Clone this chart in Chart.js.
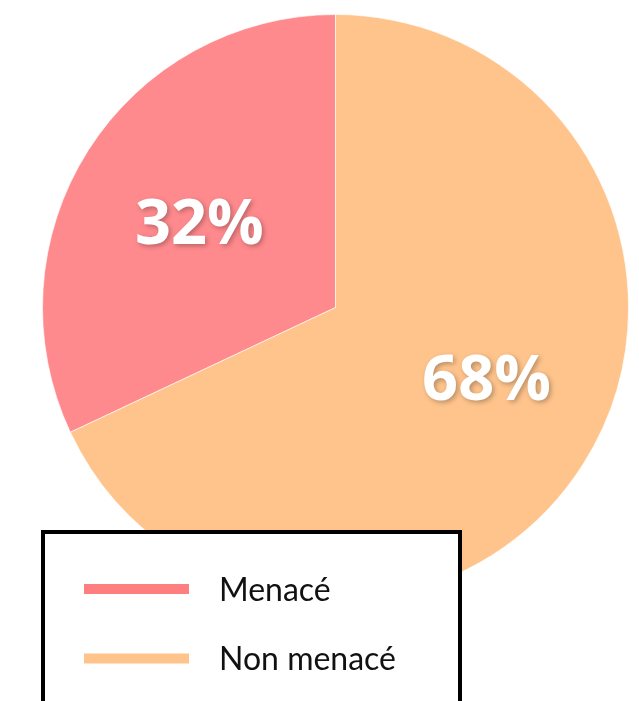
<!DOCTYPE html>
<html lang="fr">
<head>
<meta charset="utf-8">
<title>Menacé / Non menacé</title>
<script src="https://cdn.jsdelivr.net/npm/chart.js@4/dist/chart.umd.min.js"></script>
<style>
  html, body { margin: 0; padding: 0; background: #fff; }
  #wrap { position: relative; width: 639px; height: 701px; }
</style>
</head>
<body>
<div id="wrap"><canvas id="pie" width="639" height="701"></canvas></div>
<script>
  const labels = ["Menacé", "Non menacé"];
  const values = [32, 68];
  const sliceColors = ["#FF8A8D", "#FFC48C"];
  const legendColors = ["#FF7F80", "#FFC48C"];

  const total = values.reduce((a, b) => a + b, 0);

  // ---------------- Percent labels inside slices ----------------
  const pctLabels = {
    id: "pctLabels",
    afterDatasetsDraw(chart, args, opts) {
      const { ctx } = chart;
      const meta = chart.getDatasetMeta(0);
      ctx.save();
      ctx.font = `bold ${opts.size}px "Open Sans", Lato, sans-serif`;
      ctx.fillStyle = "#fff";
      ctx.textAlign = "center";
      ctx.textBaseline = "alphabetic";
      ctx.shadowColor = "rgba(0,0,0,0.28)";
      ctx.shadowBlur = 5;
      ctx.shadowOffsetX = 2;
      ctx.shadowOffsetY = 2;
      meta.data.forEach((arc, i) => {
        const p = arc.getProps(["x", "y", "startAngle", "endAngle", "outerRadius"], true);
        const mid = (p.startAngle + p.endAngle) / 2;
        const r = p.outerRadius * opts.radius[i];
        const nudge = opts.nudge[i] || [0, 0];
        const x = p.x + Math.cos(mid) * r + nudge[0];
        const y = p.y + Math.sin(mid) * r + nudge[1];
        const pct = Math.round((values[i] / total) * 100) + "%";
        ctx.fillText(pct, x, y + opts.size * 0.355);
      });
      ctx.restore();
    },
  };

  // ---------------- Boxed legend overlapping the pie ----------------
  const boxLegend = {
    id: "boxLegend",
    afterDraw(chart, args, o) {
      const { ctx } = chart;
      ctx.save();
      ctx.fillStyle = "#fff";
      ctx.fillRect(o.left, o.top, o.width, o.height);
      ctx.lineWidth = o.border;
      ctx.strokeStyle = "#000";
      ctx.strokeRect(o.left + o.border / 2, o.top + o.border / 2, o.width - o.border, o.height - o.border);
      ctx.font = `${o.fontSize}px Lato, "Open Sans", sans-serif`;
      ctx.textBaseline = "alphabetic";
      ctx.textAlign = "left";
      labels.forEach((lab, i) => {
        const cy = o.firstY + i * o.rowGap;
        ctx.fillStyle = legendColors[i];
        ctx.fillRect(o.markX, cy - o.markH / 2, o.markW, o.markH);
        ctx.fillStyle = "#111";
        ctx.fillText(lab, o.textX, cy + o.fontSize * 0.37);
      });
      ctx.restore();
    },
  };

  new Chart(document.getElementById("pie"), {
    type: "pie",
    data: {
      labels,
      datasets: [{
        data: values,
        backgroundColor: sliceColors,
        borderColor: "rgba(255,255,255,0.6)",
        borderWidth: 1,
      }],
    },
    options: {
      responsive: false,
      animation: false,
      rotation: -(values[0] / total) * 360,
      layout: { padding: { left: 42, right: 10, top: 14, bottom: 100 } },
      plugins: {
        legend: { display: false },
        tooltip: { enabled: false },
        pctLabels: { size: 63, radius: [0.55, 0.57], nudge: [[0, 0], [10, -19]] },
        boxLegend: {
          left: 41, top: 530, width: 421, height: 200, border: 4,
          markX: 84, markW: 105, markH: 10, firstY: 589, rowGap: 69.5,
          textX: 219, fontSize: 32,
        },
      },
    },
    plugins: [pctLabels, boxLegend],
  });
</script>
</body>
</html>
